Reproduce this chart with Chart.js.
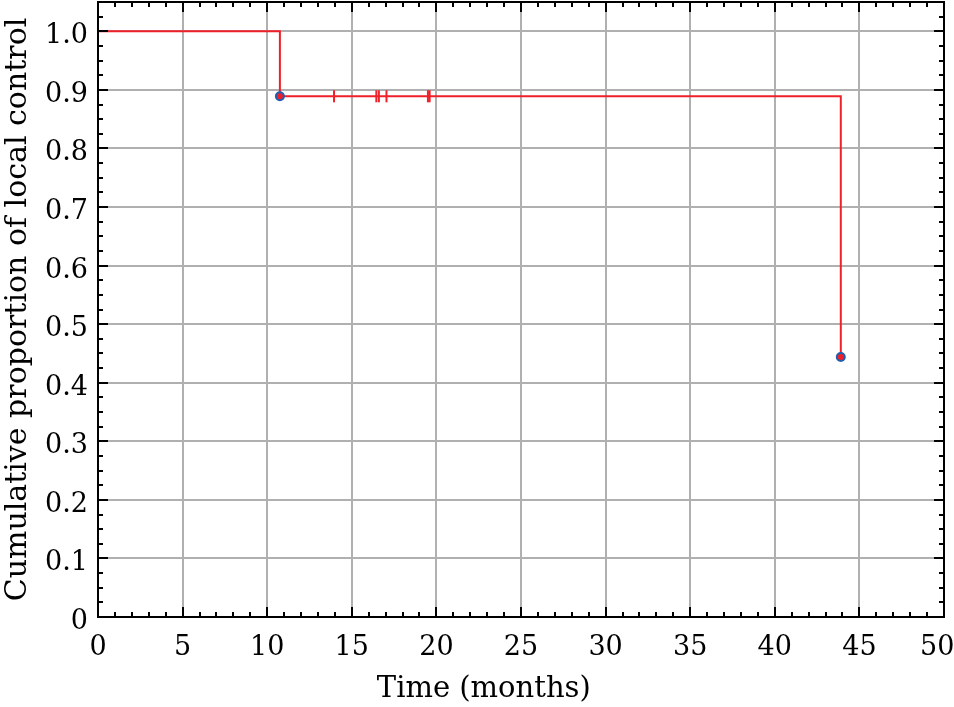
<!DOCTYPE html>
<html>
<head>
<meta charset="utf-8">
<script src="https://cdn.jsdelivr.net/npm/chart.js@4/dist/chart.umd.min.js"></script>
<style>
  html, body { margin: 0; padding: 0; background: #fff; }
  #wrap { width: 954px; height: 707px; }
</style>
</head>
<body>
<div id="wrap"><canvas id="c" width="954" height="707"></canvas></div>
<script>
// ---- data ----
const eventTimes = [0, 10.75, 43.9];          // months
const survival   = [1.0, 0.889, 0.444];        // cumulative proportion
const censorTimes = [13.95, 16.45, 16.6, 17.05, 19.5, 19.6];
const censorLevel = [0.889, 0.889, 0.889, 0.889, 0.889, 0.889];
const xTickLabels = ['0','5','10','15','20','25','30','35','40','45','50'];
const yTickLabels = ['0','0.1','0.2','0.3','0.4','0.5','0.6','0.7','0.8','0.9','1.0'];
const xTitle = 'Time (months)';
const yTitle = 'Cumulative proportion of local control';

const FONT = "'DejaVu Serif', 'Liberation Serif', serif";
const FSIZE = 27;

const stepData = eventTimes.map((t, i) => ({ x: t, y: survival[i] }));
const eventMarks = eventTimes.slice(1).map((t, i) => ({ x: t, y: survival[i + 1] }));
const censorMarks = censorTimes.map((t, i) => ({ x: t, y: censorLevel[i] }));

const frameTicks = {
  id: 'frameTicks',
  afterDraw(chart) {
    const { ctx, chartArea: a, scales: { x, y } } = chart;
    ctx.save();
    ctx.strokeStyle = '#000';
    ctx.lineWidth = 2;
    ctx.lineCap = 'butt';
    const major = 10, minor = 5;
    ctx.beginPath();
    for (let v = 0; v <= 50; v += 1) {
      const px = Math.round(x.getPixelForValue(v));
      const len = (v % 5 === 0) ? major : minor;
      ctx.moveTo(px, a.bottom); ctx.lineTo(px, a.bottom - len);
      ctx.moveTo(px, a.top); ctx.lineTo(px, a.top + len);
    }
    for (let k = 0; k <= 42; k++) {
      const v = k * 0.025;
      const py = Math.round(y.getPixelForValue(v));
      const len = (k % 4 === 0) ? major : minor;
      ctx.moveTo(a.left, py); ctx.lineTo(a.left + len, py);
      ctx.moveTo(a.right, py); ctx.lineTo(a.right - len, py);
    }
    ctx.stroke();
    ctx.strokeRect(a.left, a.top, a.right - a.left, a.bottom - a.top);
    // x-axis title (placed as in the reference, left of the plot centre)
    ctx.fillStyle = '#000';
    ctx.font = "29px " + FONT;
    ctx.textAlign = 'center';
    ctx.textBaseline = 'alphabetic';
    ctx.fillText(xTitle, a.left + 0.456 * (a.right - a.left), a.bottom + 80);
    ctx.restore();
  }
};

new Chart(document.getElementById('c'), {
  type: 'scatter',
  data: {
    datasets: [
      {
        type: 'line',
        data: stepData,
        stepped: 'before',
        borderColor: '#f0202a',
        borderWidth: 2,
        pointRadius: 0,
        fill: false,
        order: 3
      },
      {
        data: eventMarks,
        pointStyle: 'circle',
        pointRadius: 4,
        borderWidth: 2,
        borderColor: '#1f5fb0',
        backgroundColor: '#f0202a',
        order: 1
      },
      {
        data: censorMarks,
        pointStyle: 'line',
        rotation: 90,
        pointRadius: 6,
        borderWidth: 2,
        borderColor: '#f0202a',
        order: 2
      }
    ]
  },
  options: {
    responsive: false,
    animation: false,
    devicePixelRatio: 1,
    layout: { autoPadding: false, padding: { top: 2, right: 10, left: 0, bottom: 0 } },
    plugins: { legend: { display: false }, tooltip: { enabled: false } },
    scales: {
      x: {
        type: 'linear',
        min: 0, max: 50,
        border: { display: false },
        grid: { color: '#b0b0b0', lineWidth: 2, drawTicks: false },
        ticks: {
          stepSize: 5,
          includeBounds: false,
          maxRotation: 0,
          autoSkip: false,
          padding: 15,
          color: '#000',
          font: { family: FONT, size: FSIZE },
          callback: (v, i) => (i === xTickLabels.length - 1 ? xTickLabels[i] + '\u2002' : xTickLabels[i])
        },
        title: { display: false, text: xTitle },
        afterFit(s) { s.height = 90; s.paddingLeft = 0; s.paddingRight = 0; }
      },
      y: {
        type: 'linear',
        min: 0, max: 1.05,
        border: { display: false },
        grid: { color: '#b0b0b0', lineWidth: 2, drawTicks: false },
        ticks: {
          stepSize: 0.1,
          includeBounds: false,
          autoSkip: false,
          padding: 10,
          labelOffset: 5,
          color: '#000',
          font: { family: FONT, size: FSIZE },
          callback: (v, i) => yTickLabels[i]
        },
        title: {
          display: true, text: yTitle, color: '#000',
          font: { family: FONT, size: 30 },
          padding: { top: 0, bottom: 0 }
        },
        afterFit(s) { s.width = 98; s.paddingTop = 0; s.paddingBottom = 0; }
      }
    }
  },
  plugins: [frameTicks]
});
</script>
</body>
</html>
